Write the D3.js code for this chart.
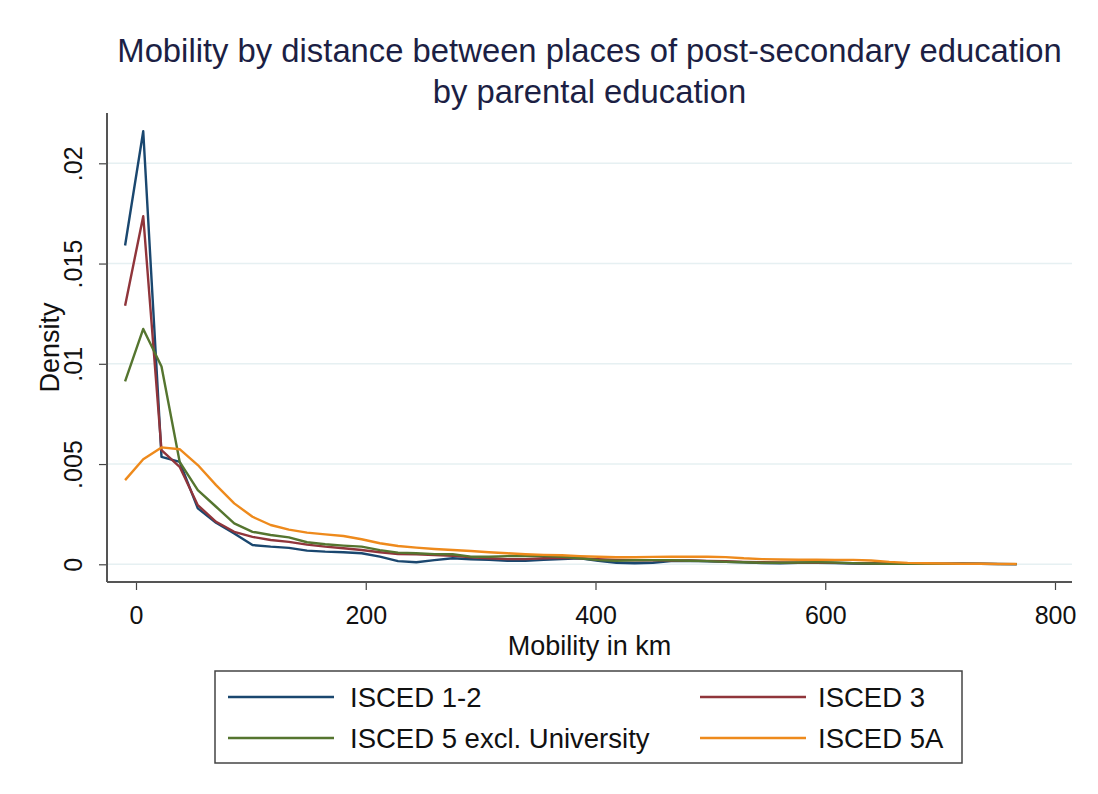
<!DOCTYPE html>
<html>
<head>
<meta charset="utf-8">
<script src="https://cdn.jsdelivr.net/npm/d3@7"></script>
<style>
  body { margin: 0; background: #fff; }
  text { font-family: "Liberation Sans", Arial, sans-serif; }
</style>
</head>
<body>
<div id="output"></div>
<script>
var w = 1098;
var h = 794;

// evaluation points of the density (km)
var km = [-9.5, 6.3, 22.2, 38.0, 53.8, 69.7, 85.5, 101.4, 117.2, 133.1,
          148.9, 164.7, 180.6, 196.4, 212.3, 228.1, 244.0, 259.8, 275.6, 291.5,
          307.3, 323.2, 339.0, 354.8, 370.7, 386.5, 402.4, 418.2, 434.1, 449.9,
          465.7, 481.6, 497.4, 513.3, 529.1, 545.0, 560.8, 576.6, 592.5, 608.3,
          624.2, 640.0, 655.8, 671.7, 687.5, 703.4, 719.2, 735.1, 750.9, 766.7];

var isced12 = [0.0159, 0.0216, 0.00536, 0.00511, 0.00279, 0.00207, 0.00154, 0.00096, 0.00088, 0.00082,
               0.00068, 0.00063, 0.0006, 0.00055, 0.00038, 0.00016, 0.0001, 0.00021, 0.0003, 0.00025,
               0.00022, 0.00018, 0.00017, 0.00022, 0.00026, 0.0003, 0.00018, 0.00008, 0.00005, 0.00008,
               0.00016, 0.00018, 0.00015, 0.00012, 0.0001, 0.00006, 0.00005, 0.00007, 0.00008, 0.00006,
               0.00004, 0.00003, 0.00004, 0.00003, 0.00002, 0.00003, 0.00004, 0.00003, 0.00002, 0.00001];

var isced3 = [0.0129, 0.01736, 0.00569, 0.00486, 0.00295, 0.00212, 0.00162, 0.00137, 0.00121, 0.00112,
              0.00098, 0.00088, 0.0008, 0.00071, 0.0006, 0.00051, 0.0005, 0.00046, 0.00043, 0.00035,
              0.0003, 0.00026, 0.00026, 0.0003, 0.00033, 0.0003, 0.00025, 0.00022, 0.0002, 0.00021,
              0.00019, 0.00019, 0.00017, 0.00015, 0.00012, 0.0001, 0.00009, 0.00008, 0.00008, 0.00007,
              0.00006, 0.00005, 0.00004, 0.00003, 0.00003, 0.00002, 0.00002, 0.00002, 0.00001, 0.00001];

var isced5 = [0.00912, 0.01174, 0.00987, 0.00511, 0.0037, 0.00287, 0.00204, 0.00162, 0.00146, 0.00134,
              0.0011, 0.001, 0.00093, 0.00088, 0.00071, 0.00058, 0.00055, 0.00051, 0.0005, 0.00038,
              0.00038, 0.00041, 0.00042, 0.00041, 0.00038, 0.0003, 0.00021, 0.00018, 0.0002, 0.00021,
              0.0002, 0.00018, 0.00016, 0.00012, 0.0001, 0.00008, 0.00008, 0.00009, 0.0001, 0.00009,
              0.00006, 0.00004, 0.00003, 0.00003, 0.00003, 0.00002, 0.00002, 0.00002, 0.00001, 0.00001];

var isced5a = [0.0042, 0.00524, 0.00583, 0.00574, 0.00495, 0.00395, 0.00304, 0.00237, 0.00196, 0.00173,
               0.00158, 0.00149, 0.00141, 0.00125, 0.00105, 0.00091, 0.00083, 0.00076, 0.00071, 0.00066,
               0.0006, 0.00055, 0.0005, 0.00047, 0.00045, 0.00041, 0.00038, 0.00035, 0.00035, 0.00037,
               0.00038, 0.00038, 0.00038, 0.00036, 0.0003, 0.00026, 0.00024, 0.00023, 0.00023, 0.00022,
               0.00022, 0.00019, 0.00012, 0.00007, 0.00005, 0.00004, 0.00003, 0.00003, 0.00002, 0.00002];

var seriesNames = ['ISCED 1-2', 'ISCED 3', 'ISCED 5 excl. University', 'ISCED 5A'];
var seriesColors = ['#1a476f', '#90353b', '#55752f', '#ee8a1c'];
var seriesValues = [isced12, isced3, isced5, isced5a];

var xTicks = [0, 200, 400, 600, 800];
var yTicks = [0, 0.005, 0.01, 0.015, 0.02];
var yTickLabels = ['0', '.005', '.01', '.015', '.02'];

// plot region (don't call it "top", that's window.top)
var plotLeft = 107, plotRight = 1072, plotTop = 113, plotBottom = 582;

var svg = d3.select('#output').append('svg')
    .attr('width', w)
    .attr('height', h);

var x = d3.scaleLinear().domain([0, 800]).range([136, 1055]);
var y = d3.scaleLinear().domain([0, 0.02]).range([564.3, 163.3]);

// grid lines
svg.selectAll('line.grid')
    .data(yTicks)
    .enter()
    .append('line')
    .attr('class', 'grid')
    .attr('x1', plotLeft + 1)
    .attr('x2', plotRight)
    .attr('y1', function(d) { return y(d); })
    .attr('y2', function(d) { return y(d); })
    .attr('stroke', '#e6f0f2')
    .attr('stroke-width', 1.5);

// series lines
var line = d3.line()
    .x(function(d) { return x(d[0]); })
    .y(function(d) { return y(d[1]); });

seriesValues.forEach(function(vals, i) {
  var pts = km.map(function(k, j) { return [k, vals[j]]; });
  svg.append('path')
      .datum(pts)
      .attr('d', line)
      .attr('fill', 'none')
      .attr('stroke', seriesColors[i])
      .attr('stroke-width', 2.4)
      .attr('stroke-linejoin', 'round');
});

// y axis: ticks via d3, labels rotated like Stata
var yAxis = d3.axisLeft(y)
    .tickValues(yTicks)
    .tickSize(8)
    .tickFormat(function(d, i) { return yTickLabels[i]; });

var gy = svg.append('g')
    .attr('transform', 'translate(' + plotLeft + ',0)')
    .call(yAxis);
gy.select('.domain').remove();
gy.selectAll('.tick line').attr('stroke', '#444').attr('stroke-width', 1.2);
gy.selectAll('.tick text')
    .attr('x', null).attr('y', null).attr('dy', null)
    .attr('transform', 'translate(-32,0) rotate(-90)')
    .attr('text-anchor', 'middle')
    .attr('dominant-baseline', 'middle')
    .style('font-size', '25px')
    .style('fill', '#111');

var xAxis = d3.axisBottom(x)
    .tickValues(xTicks)
    .tickSize(8)
    .tickFormat(d3.format('d'));

var gx = svg.append('g')
    .attr('transform', 'translate(0,' + plotBottom + ')')
    .call(xAxis);
gx.select('.domain').remove();
gx.selectAll('.tick line').attr('stroke', '#444').attr('stroke-width', 1.2);
gx.selectAll('.tick text')
    .attr('y', 42).attr('dy', null)
    .style('font-size', '25px')
    .style('fill', '#111');

// axis lines
svg.append('line')
    .attr('x1', plotLeft).attr('x2', plotLeft)
    .attr('y1', plotTop).attr('y2', plotBottom)
    .attr('stroke', '#555').attr('stroke-width', 2);
svg.append('line')
    .attr('x1', plotLeft).attr('x2', plotRight)
    .attr('y1', plotBottom).attr('y2', plotBottom)
    .attr('stroke', '#555').attr('stroke-width', 2);

// titles
var cx = (plotLeft + plotRight) / 2;
svg.append('text')
    .attr('x', cx).attr('y', 62)
    .attr('text-anchor', 'middle')
    .style('font-size', '32.8px')
    .style('fill', '#1c1f44')
    .text('Mobility by distance between places of post-secondary education');
svg.append('text')
    .attr('x', cx).attr('y', 103)
    .attr('text-anchor', 'middle')
    .style('font-size', '32.8px')
    .style('fill', '#1c1f44')
    .text('by parental education');

svg.append('text')
    .attr('x', cx).attr('y', 655)
    .attr('text-anchor', 'middle')
    .style('font-size', '27px')
    .style('fill', '#111')
    .text('Mobility in km');

svg.append('text')
    .attr('transform', 'translate(59,' + ((plotTop + plotBottom) / 2) + ') rotate(-90)')
    .attr('text-anchor', 'middle')
    .style('font-size', '27px')
    .style('fill', '#111')
    .text('Density');

// legend
svg.append('rect')
    .attr('x', 215).attr('y', 671)
    .attr('width', 747).attr('height', 92)
    .attr('fill', '#fff')
    .attr('stroke', '#444')
    .attr('stroke-width', 1.5);

var legendPos = [[228, 697], [700, 697], [228, 738], [700, 738]];
seriesNames.forEach(function(name, i) {
  var p = legendPos[i];
  svg.append('line')
      .attr('x1', p[0]).attr('x2', p[0] + 106)
      .attr('y1', p[1]).attr('y2', p[1])
      .attr('stroke', seriesColors[i])
      .attr('stroke-width', 2.4);
  svg.append('text')
      .attr('x', p[0] + (i % 2 === 0 ? 122 : 118))
      .attr('y', p[1] + 10)
      .style('font-size', '27.5px')
      .style('fill', '#111')
      .text(name);
});
</script>
</body>
</html>
